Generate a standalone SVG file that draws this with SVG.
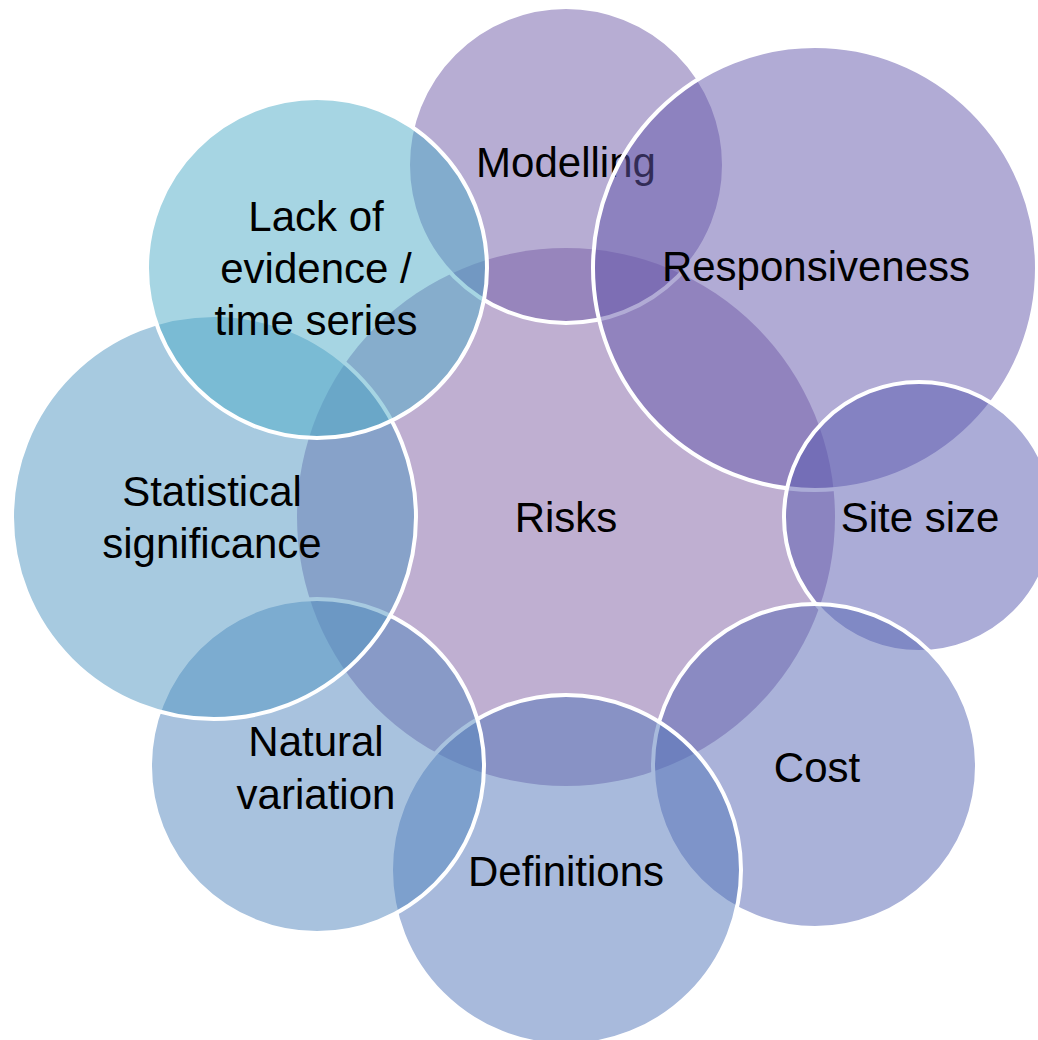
<svg xmlns="http://www.w3.org/2000/svg" width="1038" height="1040" viewBox="0 0 1038 1040">
  <style>
    .bubble { stroke: #ffffff; stroke-width: 4; fill-opacity: 0.5; }
    .hub { stroke: none; }
    .label { font-family: "Liberation Sans", Arial, sans-serif; font-size: 42px; fill: #000000; text-anchor: middle; }
  </style>
  <rect x="0" y="0" width="1038" height="1040" fill="#ffffff"/>

  <!-- central hub -->
  <g id="risks">
    <circle class="hub" cx="566" cy="517" r="269" fill="#BFAFD1"/>
    <text class="label" x="566" y="532">Risks</text>
  </g>

  <!-- satellites, drawn clockwise from the top; each later one overlaps the earlier -->
  <g id="modelling">
    <circle class="bubble" cx="566" cy="165" r="158" fill="#6F5BA7"/>
    <text class="label" x="566" y="177">Modelling</text>
  </g>

  <g id="responsiveness">
    <circle class="bubble" cx="815" cy="268" r="222" fill="#6357AB"/>
    <text class="label" x="816" y="281">Responsiveness</text>
  </g>

  <g id="site-size">
    <circle class="bubble" cx="919" cy="517" r="135" fill="#5759AF"/>
    <text class="label" x="920" y="532">Site size</text>
  </g>

  <g id="cost">
    <circle class="bubble" cx="815" cy="766" r="162" fill="#5565B3"/>
    <text class="label" x="817" y="782">Cost</text>
  </g>

  <g id="definitions">
    <circle class="bubble" cx="566" cy="870" r="175" fill="#5175B9"/>
    <text class="label" x="566" y="886">Definitions</text>
  </g>

  <g id="natural-variation">
    <circle class="bubble" cx="317" cy="766" r="167" fill="#5185BD"/>
    <text class="label" x="316" y="756">Natural</text>
    <text class="label" x="316" y="809">variation</text>
  </g>

  <g id="statistical-significance">
    <circle class="bubble" cx="214" cy="517" r="202" fill="#4F95C1"/>
    <text class="label" x="212" y="506">Statistical</text>
    <text class="label" x="212" y="558">significance</text>
  </g>

  <g id="lack-of-evidence">
    <circle class="bubble" cx="317" cy="268" r="170" fill="#4DABC7"/>
    <text class="label" x="316" y="231">Lack of</text>
    <text class="label" x="316" y="283">evidence /</text>
    <text class="label" x="316" y="335">time series</text>
  </g>
</svg>
